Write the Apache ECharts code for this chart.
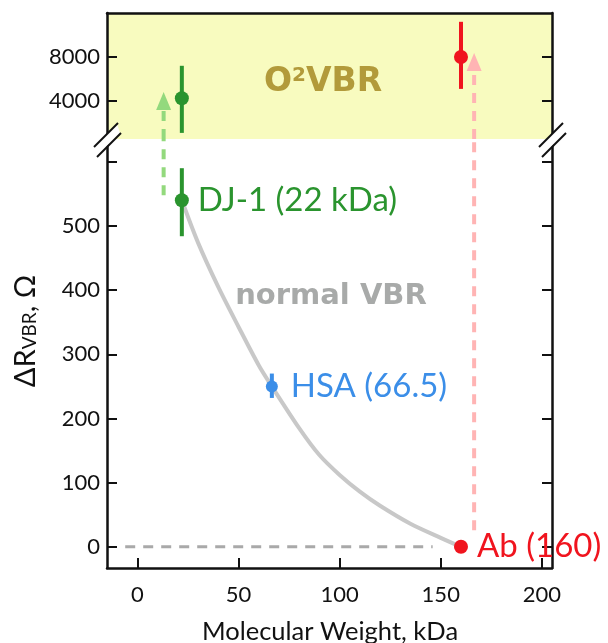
<!DOCTYPE html>
<html>
<head>
<meta charset="utf-8">
<script src="https://cdn.jsdelivr.net/npm/echarts@6/dist/echarts.min.js"></script>
<style>
html,body{margin:0;padding:0;background:#fff;}
#chart{width:608px;height:643px;}
</style>
</head>
<body>
<div id="chart"></div>
<script>
// ---- data ----
const proteinNames = ['DJ-1 (22 kDa)', 'HSA (66.5)', 'Ab (160)'];
const molWeight = [22, 66.5, 160];
const normalVBR = [540, 250, 0];
const normalErrLow = [484, 232, null];
const normalErrHigh = [590, 270, null];

const o2Names = ['DJ-1', 'Ab'];
const o2Weight = [22, 160];
const o2VBR = [4250, 8000];
const o2ErrLow = [1100, 5100];
const o2ErrHigh = [7200, 11200];

const curveX = [22, 30, 40, 50, 60, 66.5, 80, 90, 100, 110, 120, 135, 150, 160];
const curveY = [540, 474, 405, 343, 283, 250, 185, 143, 112, 86, 64, 36, 14, 0];

const baselineX = [-6, 146];
const baselineY = [0, 0];

const arrowX = [13, 166.5];
const arrowStart = [548, 26];
const arrowHead = [4000, 7550];

const xTicks = [0, 50, 100, 150, 200];
const yTicksBottom = [0, 100, 200, 300, 400, 500];
const yTickMarksBottom = [0, 100, 200, 300, 400, 500, 600];
const yTicksTop = [4000, 8000];

// ---- layout / style ----
const X_MIN = -15, X_MAX = 205;
const YB_MIN = -33, YB_MAX = 635.5;
const YT_MIN = 545, YT_MAX = 12000;
const GL = 107, GR = 56;
const axisColor = '#111';
const tickFont = {fontFamily: 'Lato', fontSize: 22, color: '#111'};
const green = '#2a942e', blue = '#3b8ee8', red = '#f0141e';
const lightGreen = '#93d97d', pink = '#ffb4b4';
const markerColors = [green, blue, red];
const markerSizes = [14, 12, 14];

const chart = echarts.init(document.getElementById('chart'), null, {renderer: 'canvas'});

function errBar() {
  return function (params, api) {
    const lo = api.value(1), hi = api.value(2);
    if (lo == null || hi == null || isNaN(lo) || isNaN(hi)) return null;
    const p1 = api.coord([api.value(0), lo]);
    const p2 = api.coord([api.value(0), hi]);
    return {type: 'line', shape: {x1: p1[0], y1: p1[1], x2: p2[0], y2: p2[1]},
      style: {stroke: api.visual('color'), lineWidth: 4}};
  };
}

function yAxisCommon(gridIndex, min, max, position, ticks, labels) {
  return {
    type: 'value', gridIndex: gridIndex, min: min, max: max, position: position,
    splitLine: {show: false},
    axisLine: {show: true, onZero: false, lineStyle: {color: axisColor, width: 2.5}},
    axisTick: {show: true, inside: true, length: 10, lineStyle: {color: axisColor, width: 2}, customValues: ticks},
    axisLabel: labels ? Object.assign({show: true, margin: 7, customValues: labels, formatter: v => String(v)}, tickFont) : {show: false}
  };
}

const bottomErr = molWeight.map((x, i) => [x, normalErrLow[i], normalErrHigh[i]]).filter(d => d[1] != null);
const bottomErrColors = [green, blue];
const topErrColors = [green, red];

const option = {
  animation: false,
  backgroundColor: '#fff',
  grid: [
    {left: GL, right: GR, top: 13, height: 126, show: true, backgroundColor: '#f8fbbf', borderWidth: 0},
    {left: GL, right: GR, top: 139, bottom: 75}
  ],
  xAxis: [
    {type: 'value', gridIndex: 0, min: X_MIN, max: X_MAX, position: 'top',
      splitLine: {show: false}, axisLine: {show: true, onZero: false, lineStyle: {color: axisColor, width: 2.5}},
      axisTick: {show: false}, axisLabel: {show: false}},
    {type: 'value', gridIndex: 1, min: X_MIN, max: X_MAX, position: 'bottom',
      splitLine: {show: false}, axisLine: {show: true, onZero: false, lineStyle: {color: axisColor, width: 2.5}},
      axisTick: {show: true, inside: true, length: 10, lineStyle: {color: axisColor, width: 2}, customValues: xTicks},
      axisLabel: Object.assign({show: true, margin: 16, customValues: xTicks, formatter: v => String(v)}, tickFont)}
  ],
  yAxis: [
    yAxisCommon(0, YT_MIN, YT_MAX, 'left', yTicksTop, yTicksTop),
    yAxisCommon(0, YT_MIN, YT_MAX, 'right', yTicksTop, null),
    yAxisCommon(1, YB_MIN, YB_MAX, 'left', yTickMarksBottom, yTicksBottom),
    yAxisCommon(1, YB_MIN, YB_MAX, 'right', yTickMarksBottom, null)
  ],
  series: [
    // grey baseline
    {type: 'line', xAxisIndex: 1, yAxisIndex: 2, data: baselineX.map((x, i) => [x, baselineY[i]]),
      symbol: 'none', lineStyle: {color: '#a9a9a9', width: 3, type: [10, 8]}, z: 1},
    // normal VBR curve
    {type: 'line', xAxisIndex: 1, yAxisIndex: 2, data: curveX.map((x, i) => [x, curveY[i]]),
      symbol: 'none', smooth: 0.3, lineStyle: {color: '#c8c8c8', width: 4}, z: 2},
    // arrow shafts bottom
    ...arrowX.map((x, i) => ({type: 'line', xAxisIndex: 1, yAxisIndex: 2,
      data: [[x, arrowStart[i]], [x, YB_MAX]], symbol: 'none',
      lineStyle: {color: i === 0 ? lightGreen : pink, width: 4, type: [10, 8]}, z: 1})),
    // arrow shafts top
    ...arrowX.map((x, i) => ({type: 'line', xAxisIndex: 0, yAxisIndex: 0,
      data: [[x, YT_MIN], [x, arrowHead[i]]], symbol: 'none',
      lineStyle: {color: i === 0 ? lightGreen : pink, width: 4, type: [10, 8]}, z: 1})),
    // arrow heads
    {type: 'scatter', xAxisIndex: 0, yAxisIndex: 0, data: arrowX.map((x, i) => ({
        value: [x, arrowHead[i]], itemStyle: {color: i === 0 ? lightGreen : pink, opacity: 1}})),
      symbol: 'triangle', symbolSize: [15, 18], z: 2},
    // bottom error bars
    {type: 'custom', xAxisIndex: 1, yAxisIndex: 2, renderItem: errBar(),
      encode: {x: 0, y: [1, 2]},
      data: bottomErr.map((d, i) => ({value: d, itemStyle: {color: bottomErrColors[i]}})), z: 3},
    // bottom points
    {type: 'scatter', xAxisIndex: 1, yAxisIndex: 2, z: 4,
      data: molWeight.map((x, i) => ({value: [x, normalVBR[i]], symbolSize: markerSizes[i],
        itemStyle: {color: markerColors[i], opacity: 1},
        label: {show: true, position: 'right', distance: i === 1 ? 13 : 9, formatter: proteinNames[i],
          color: markerColors[i], fontFamily: 'Lato', fontSize: 33}}))},
    // top error bars
    {type: 'custom', xAxisIndex: 0, yAxisIndex: 0, renderItem: errBar(),
      encode: {x: 0, y: [1, 2]},
      data: o2Weight.map((x, i) => ({value: [x, o2ErrLow[i], o2ErrHigh[i]], itemStyle: {color: topErrColors[i]}})), z: 3},
    // top points
    {type: 'scatter', xAxisIndex: 0, yAxisIndex: 0, z: 4,
      data: o2Weight.map((x, i) => ({value: [x, o2VBR[i]], symbolSize: 14, itemStyle: {color: topErrColors[i], opacity: 1}}))}
  ],
  graphic: [
    {type: 'text', x: 323, y: 82, style: {text: '{a|O}{s|2}{a|VBR}', align: 'center', verticalAlign: 'middle',
      rich: {a: {fontFamily: 'DejaVu Sans', fontWeight: 'bold', fontSize: 33, fill: '#b29a3a', color: '#b29a3a'},
             s: {fontFamily: 'DejaVu Sans', fontWeight: 'bold', fontSize: 20, fill: '#b29a3a', color: '#b29a3a', verticalAlign: 'top', padding: [0, 0, 10, 0]}}}},
    {type: 'text', x: 331, y: 296, style: {text: 'normal VBR', align: 'center', verticalAlign: 'middle',
      font: 'bold 29px "DejaVu Sans"', fill: '#a8aaa9'}},
    {type: 'text', x: 330, y: 632, style: {text: 'Molecular Weight, kDa', align: 'center', verticalAlign: 'middle',
      font: '25.5px Lato', fill: '#111'}},
    {type: 'text', x: 26, y: 331, rotation: Math.PI / 2, style: {text: '{a|ΔR}{s|VBR}{a|, Ω}', align: 'center', verticalAlign: 'middle',
      rich: {a: {fontFamily: 'Lato', fontSize: 29, color: '#111', fill: '#111'},
             s: {fontFamily: 'Lato', fontSize: 19, color: '#111', fill: '#111', padding: [8, 0, 0, 0]}}}},
    // axis break marks
    ...[GL, 608 - GR].map(ax => ({type: 'group', children: [
      {type: 'polygon', shape: {points: [[ax - 12, 146], [ax + 10, 124], [ax + 13, 133], [ax - 9, 155]]},
        style: {fill: '#fff'}, z: 100},
      {type: 'line', shape: {x1: ax - 13, y1: 147, x2: ax + 11, y2: 123}, style: {stroke: '#111', lineWidth: 2}, z: 101},
      {type: 'line', shape: {x1: ax - 10, y1: 157, x2: ax + 14, y2: 133}, style: {stroke: '#111', lineWidth: 2}, z: 101}
    ]}))
  ]
};
chart.setOption(option);
</script>
</body>
</html>
